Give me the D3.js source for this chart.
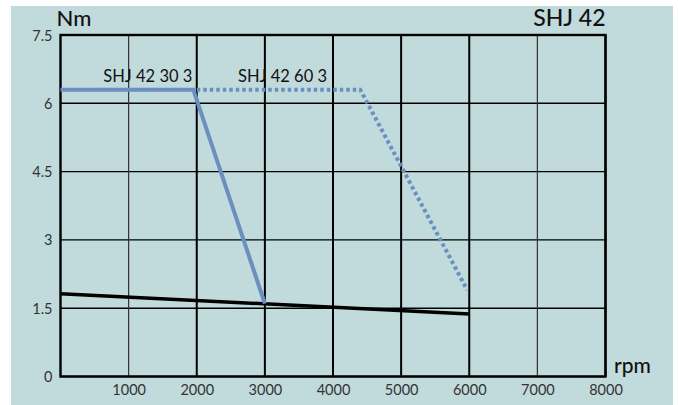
<!DOCTYPE html>
<html><head><meta charset="utf-8">
<script src="https://cdn.jsdelivr.net/npm/d3@7"></script>
<style>body{margin:0;background:#fff}svg{display:block}</style>
</head><body>
<svg id="c" width="678" height="405"></svg>
<script>
const xTicks = [1000,2000,3000,4000,5000,6000,7000,8000];
const yTicks = [0,1.5,3,4.5,6,7.5];
const yTickLabels = ["0","1.5","3","4.5","6","7.5"];
const seriesA = {name:"SHJ 42 30 3", rpm:[0,1950,3000], nm:[6.3,6.3,1.6]};
const seriesB = {name:"SHJ 42 60 3", rpm:[2000,4400,5970], nm:[6.3,6.3,1.9]};
const seriesC = {rpm:[0,6000], nm:[1.82,1.37]};
const title = "SHJ 42", yUnit = "Nm", xUnit = "rpm";

const svg = d3.select("#c");
const font = "Lato, 'DejaVu Sans', sans-serif";
svg.append("rect").attr("x",11).attr("y",6).attr("width",662).attr("height",399).attr("fill","#c1dadb");
const x = d3.scaleLinear().domain([0,8000]).range([60.5,605.5]);
const y = d3.scaleLinear().domain([0,7.5]).range([376.5,35]);

const g = svg.append("g");
yTicks.forEach(v=>{
  g.append("line").attr("x1",x(0)).attr("x2",x(8000)).attr("y1",y(v)).attr("y2",y(v))
   .attr("stroke","#000").attr("stroke-width",1.4);
});
xTicks.forEach(v=>{
  const thin = (v===1000||v===7000);
  g.append("line").attr("x1",x(v)).attr("x2",x(v)).attr("y1",y(0)).attr("y2",y(7.5))
   .attr("stroke",thin?"#333":"#000").attr("stroke-width",thin?1.2:2);
});
g.append("rect").attr("x",x(0)).attr("y",y(7.5)).attr("width",x(8000)-x(0)).attr("height",y(0)-y(7.5))
 .attr("fill","none").attr("stroke","#000").attr("stroke-width",2.4);

const line = d3.line().x(d=>x(d[0])).y(d=>y(d[1]));
const pts = s => s.rpm.map((r,i)=>[r,s.nm[i]]);
g.append("path").attr("d",line(pts(seriesC))).attr("fill","none").attr("stroke","#000").attr("stroke-width",3.5);
g.append("path").attr("d",line(pts(seriesB))).attr("fill","none").attr("stroke","#6a8fc0").attr("stroke-width",4).attr("stroke-dasharray","3.5,3");
g.append("path").attr("d",line(pts(seriesA))).attr("fill","none").attr("stroke","#6a8fc0").attr("stroke-width",4);

const yAxis = d3.axisLeft(y).tickValues(yTicks).tickFormat((d,i)=>yTickLabels[i]).tickSize(0).tickPadding(8);
const ya = svg.append("g").attr("transform",`translate(${x(0)},0)`).call(yAxis);
ya.select(".domain").remove();
ya.selectAll("text").attr("font-family",font).attr("font-size",14.5).attr("fill","#333").attr("dy","0.35em");
const xAxis = d3.axisBottom(x).tickValues(xTicks).tickFormat(d3.format("d")).tickSize(0).tickPadding(8);
const xa = svg.append("g").attr("transform",`translate(0,${y(0)})`).call(xAxis);
xa.select(".domain").remove();
xa.selectAll("text").attr("font-family",font).attr("font-size",14.5).attr("fill","#333");

svg.append("text").attr("x",x(0)-4).attr("y",26).attr("font-family",font).attr("font-size",22).attr("font-weight",500).attr("fill","#111").text(yUnit);
svg.append("text").attr("x",x(8000)).attr("y",26).attr("text-anchor","end").attr("font-family",font).attr("font-size",23).attr("font-weight",500).attr("fill","#111").text(title);
svg.append("text").attr("x",614).attr("y",373).attr("font-family",font).attr("font-size",21).attr("font-weight",500).attr("fill","#111").text(xUnit);
svg.append("text").attr("x",x(1950)-1).attr("y",82).attr("text-anchor","end").attr("font-family",font).attr("font-size",16.5).attr("fill","#111").text(seriesA.name);
svg.append("text").attr("x",327).attr("y",82).attr("text-anchor","end").attr("font-family",font).attr("font-size",16.5).attr("fill","#111").text(seriesB.name);
</script>
</body></html>
